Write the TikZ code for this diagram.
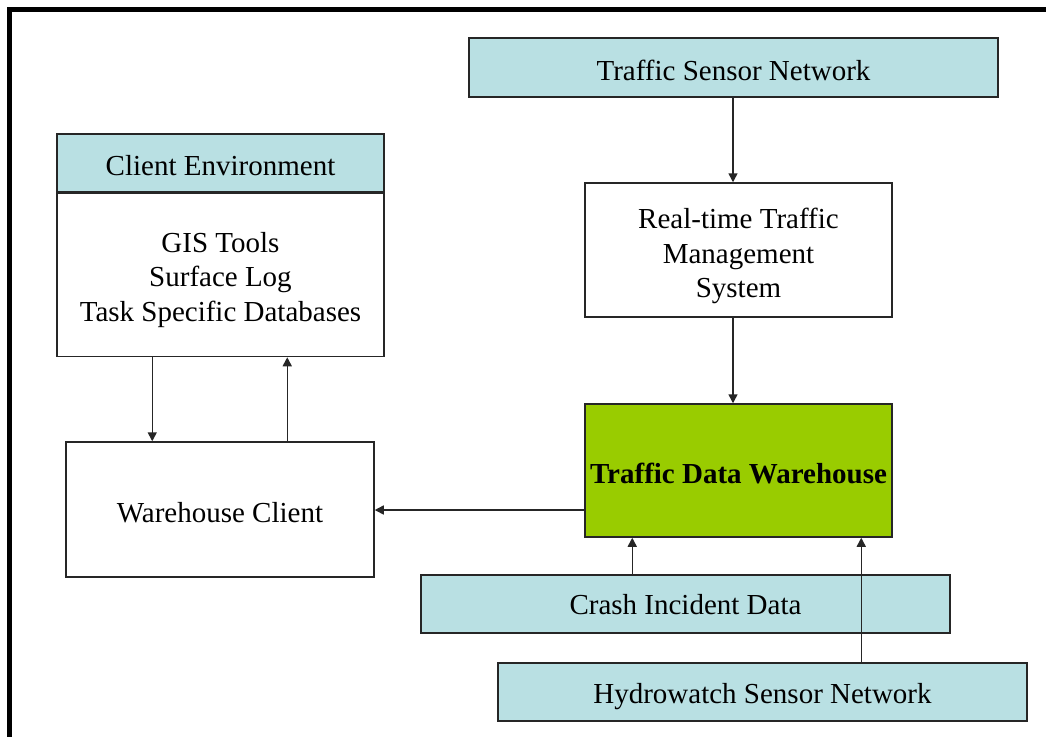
\documentclass[tikz,border=0pt]{standalone}
\usepackage{fontspec}
\setmainfont{Liberation Serif}
\usetikzlibrary{arrows.meta}
\definecolor{paleblue}{RGB}{185,224,227}
\definecolor{tdwgreen}{RGB}{153,204,0}
\begin{document}
\begin{tikzpicture}[x=0.5pt,y=-0.5pt,
  box/.style={draw=black!85,line width=0.75pt,inner sep=0pt},
  bluebox/.style={box,fill=paleblue},
  lab/.style={inner sep=0pt,align=center,font=\fontsize{14.5}{17.2}\selectfont},
  arr/.style={draw=black!85,line width=0.75pt,-{Triangle[length=4.5pt,width=4.5pt]}}]
\useasboundingbox (0,0) rectangle (1046,736);
\clip (0,0) rectangle (1046,736);
\fill[white] (0,0) rectangle (1046,736);
\draw[line width=2.6pt] (9.5,800) -- (9.5,9.5) -- (1100,9.5);
% nodes
\node[bluebox,minimum width=264.5pt,minimum height=29.5pt,
  label={[lab,yshift=-1.5pt]center:Traffic Sensor Network}] (tsn) at (733.5,67.5) {};
\node[box,minimum width=153.5pt,minimum height=67pt,
  label={[lab,yshift=-3pt]center:Real-time Traffic\\Management\\System}] (rt) at (738.5,250) {};
\node[bluebox,minimum width=163.5pt,minimum height=29pt,
  label={[lab,yshift=-1.5pt]center:Client Environment}] (ceh) at (220.5,163) {};
\node[box,minimum width=163.5pt,minimum height=81.5pt,anchor=north,
  label={[lab,yshift=-2.5pt]center:GIS Tools\\Surface Log\\Task Specific Databases}] (ceb) at (ceh.south) {};
\node[box,minimum width=154pt,minimum height=67.5pt,
  label={[lab,yshift=-1.5pt]center:Warehouse Client}] (wc) at (220,509.5) {};
\node[box,fill=tdwgreen,minimum width=153.5pt,minimum height=66.5pt,
  label={[lab,yshift=-1.5pt,font=\fontsize{14.5}{17.2}\selectfont\bfseries]center:Traffic Data Warehouse}] (tdw) at (738.5,470.5) {};
\node[bluebox,minimum width=264.5pt,minimum height=29pt,
  label={[lab,yshift=-0.5pt]center:Crash Incident Data}] (crash) at (685.5,604) {};
\node[bluebox,minimum width=264.5pt,minimum height=29pt,
  label={[lab,yshift=-2.5pt]center:Hydrowatch Sensor Network}] (hydro) at (762.5,692) {};
% connectors
\draw[arr] ([xshift=-0.25pt]tsn.south) coordinate (c1) -- (c1 |- rt.north);
\draw[arr] (rt.south -| c1) coordinate (c2) -- (c2 |- tdw.north);
\draw[arr] ([xshift=48pt]ceb.south west) coordinate (c3) -- (c3 |- wc.north);
\draw[arr] ([xshift=111pt]wc.north west) coordinate (c4) -- (c4 |- ceb.south);
\draw[arr] ([yshift=-19.75pt]tdw.west) coordinate (c5) -- (c5 -| wc.east);
\draw[arr] ([xshift=106pt]crash.north west) coordinate (c6) -- (c6 |- tdw.south);
\draw[arr] ([xshift=182pt]hydro.north west) coordinate (c7) -- (c7 |- tdw.south);
\end{tikzpicture}
\end{document}
